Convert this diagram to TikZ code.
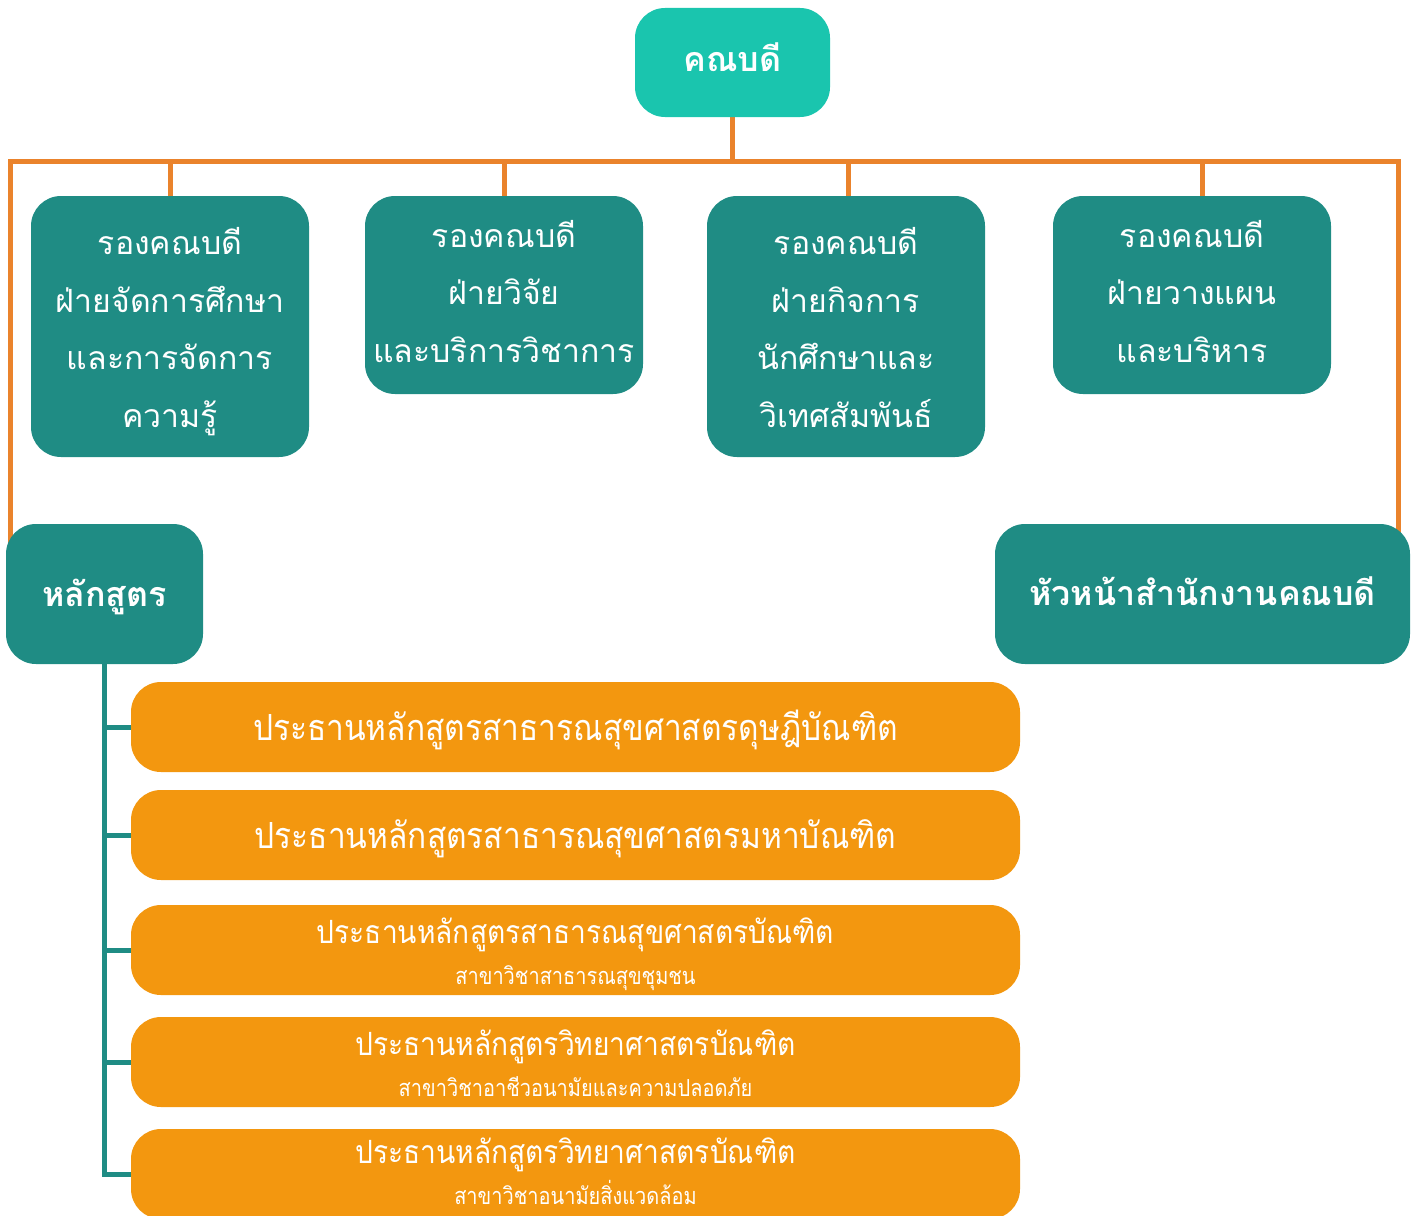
\documentclass[tikz,border=0pt]{standalone}
\usepackage{fontspec}
\newfontfamily\thai[Script=Thai]{Loma}
\newfontfamily\thaicond[Script=Thai,FakeStretch=0.88]{Loma}
\newfontfamily\thaisub[Script=Thai,FakeStretch=0.85]{Loma}
\usetikzlibrary{backgrounds,calc}
\definecolor{topc}{HTML}{1AC5AE}
\definecolor{tealc}{HTML}{1F8C84}
\definecolor{olinec}{HTML}{EA832C}
\definecolor{oboxc}{HTML}{F3970F}
\newcommand\movetext[2]{\raisebox{#1}[\height][\depth]{\begin{tabular}{@{}c@{}}#2\end{tabular}}}
\tikzset{
  box/.style={rounded corners=30pt, inner sep=0pt, text=white, align=center, font=\thai\fontsize{32}{57.5}\selectfont},
  topbox/.style={box, fill=topc, font=\thai\bfseries\fontsize{34}{58}\selectfont},
  tealbox/.style={box, fill=tealc},
  tealbold/.style={box, fill=tealc, font=\thai\bfseries\fontsize{34}{58}\selectfont},
  obox/.style={box, fill=oboxc, minimum width=889pt, minimum height=90pt, font=\thaicond\fontsize{36}{58}\selectfont},
  obox2/.style={obox, font=\thaicond\fontsize{32}{41}\selectfont},
  oline/.style={draw=olinec, line width=5pt},
  tline/.style={draw=tealc, line width=5pt},
}
\begin{document}
\begin{tikzpicture}[x=1pt,y=-1pt]
\useasboundingbox (0,0) rectangle (1415,1215);
\node[topbox, minimum width=195pt, minimum height=109pt] (top) at (732.5,62.5) {\movetext{3pt}{คณบดี}};
\node[tealbox, minimum width=278pt, minimum height=261pt] (b1) at (170,326.5) {\movetext{-3pt}{รองคณบดี\\ฝ่ายจัดการศึกษา\\และการจัดการ\\ความรู้}};
\node[tealbox, minimum width=278pt, minimum height=198pt] (b2) at (504,295) {\movetext{2pt}{รองคณบดี\\ฝ่ายวิจัย\\และบริการวิชาการ}};
\node[tealbox, minimum width=278pt, minimum height=261pt] (b3) at (846,326.5) {\movetext{-3pt}{รองคณบดี\\ฝ่ายกิจการ\\นักศึกษาและ\\วิเทศสัมพันธ์}};
\node[tealbox, minimum width=278pt, minimum height=198pt] (b4) at (1192,295) {\movetext{2pt}{รองคณบดี\\ฝ่ายวางแผน\\และบริหาร}};
\node[tealbold, minimum width=197pt, minimum height=140pt] (hl) at (104.5,594) {\movetext{-1pt}{หลักสูตร}};
\node[tealbold, minimum width=415pt, minimum height=140pt] (hn) at (1202.5,594) {\movetext{0pt}{หัวหน้าสำนักงานคณบดี}};
\node[obox] (o1) at (575.5,727) {\movetext{-2pt}{ประธานหลักสูตรสาธารณสุขศาสตรดุษฎีบัณฑิต}};
\node[obox] (o2) at (575.5,835) {\movetext{-2pt}{ประธานหลักสูตรสาธารณสุขศาสตรมหาบัณฑิต}};
\node[obox2] (o3) at (575.5,950) {\movetext{-6pt}{ประธานหลักสูตรสาธารณสุขศาสตรบัณฑิต\\{\thaisub\fontsize{23.5}{30}\selectfont สาขาวิชาสาธารณสุขชุมชน}}};
\node[obox2] (o4) at (575.5,1062) {\movetext{-6pt}{ประธานหลักสูตรวิทยาศาสตรบัณฑิต\\{\thaisub\fontsize{23.5}{30}\selectfont สาขาวิชาอาชีวอนามัยและความปลอดภัย}}};
\node[obox2] (o5) at (575.5,1174) {\movetext{-2pt}{ประธานหลักสูตรวิทยาศาสตรบัณฑิต\\{\thaisub\fontsize{23.5}{30}\selectfont สาขาวิชาอนามัยสิ่งแวดล้อม}}};
\coordinate (barL) at (10,161);
\coordinate (barR) at (1398,161);
\begin{pgfonlayer}{background}
\draw[oline] (barL |- hl.center) -- (barL) -- (barR) -- (barR |- hn.center);
\draw[oline] (top.south) -- (top.south |- barL);
\draw[oline] (b1.north) -- (b1.north |- barL);
\draw[oline] (b2.north) -- (b2.north |- barL);
\draw[oline] ([xshift=2pt]b3.north) -- ([xshift=2pt]b3.north |- barL);
\draw[oline] ([xshift=10pt]b4.north) -- ([xshift=10pt]b4.north |- barL);
\draw[tline] (hl.south) -- (hl.south |- o5.west) -- (o5.west);
\foreach \o in {o1,o2,o3,o4}{
  \draw[tline] (hl.south |- \o.west) -- (\o.west);
}
\end{pgfonlayer}
\end{tikzpicture}
\end{document}
